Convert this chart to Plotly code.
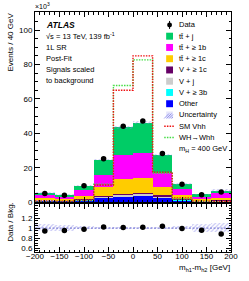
import numpy as np
import plotly.graph_objects as go

# ---------------- data (values in units of 10^3 events) ----------------
bin_centers = [-180, -140, -100, -60, -20, 20, 60, 100, 140, 180]
bin_edges = [-200, -160, -120, -80, -40, 0, 40, 80, 120, 160, 200]

other   = [1.0, 0.8, 1.2, 2.5, 3.3, 3.7, 2.8, 1.2, 0.6, 0.6]
v_3b    = [0.1, 0.1, 0.1, 0.2, 0.2, 0.3, 0.2, 0.1, 0.05, 0.05]
v_j     = [0.3, 0.2, 0.3, 0.5, 0.8, 0.9, 0.6, 0.3, 0.15, 0.2]
v_1c    = [0.2, 0.15, 0.2, 0.3, 0.7, 0.7, 0.4, 0.2, 0.1, 0.15]
tt_1c   = [1.0, 0.7, 1.9, 5.5, 8.3, 8.7, 4.9, 2.2, 0.8, 1.5]
tt_1b   = [1.4, 1.2, 3.3, 7.0, 14.3, 14.5, 8.3, 3.9, 1.4, 3.1]
tt_j    = [1.3, 1.15, 2.7, 8.8, 16.0, 17.5, 10.1, 2.7, 1.4, 1.2]

data    = [5.0, 4.1, 9.5, 25.3, 44.1, 47.2, 28.3, 10.5, 4.3, 6.0]
rel_unc = [0.07, 0.06, 0.03, 0.02, 0.02, 0.02, 0.02, 0.03, 0.08, 0.09]

sm_vhh  = [0.8, 0.6, 1.2, 10.0, 65.0, 85.0, 17.5, 2.5, 0.6, 0.4]
wh_whh  = [0.5, 0.4, 1.0, 10.5, 67.8, 82.7, 17.0, 2.0, 0.5, 0.3]

stack_names  = ["Other", "V + ≥ 3b", "V + j", "V + ≥ 1c", "tt̄ + ≥ 1c", "tt̄ + ≥ 1b", "tt̄ + j"]
stack_colors = ["#0000ff", "#00ffff", "#cccccc", "#660066", "#ffcc00", "#ff00ff", "#00cc66"]
stack_values = [other, v_3b, v_j, v_1c, tt_1c, tt_1b, tt_j]

# ---------------- derived ----------------
arr = np.array(stack_values, dtype=float)
total = arr.sum(axis=0)
bases = np.vstack([np.zeros(len(bin_centers)), np.cumsum(arr, axis=0)[:-1]])
data_a = np.array(data)
unc = np.array(rel_unc)
data_err = np.sqrt(data_a * 1000) / 1000
ratio = data_a / total
ratio_err = data_err / total

W, H = 249, 281
L, R, T, B = 35, 236, 11, 252


def px(x):
    return (x - L) / (R - L)


def py(y):
    return (B - y) / (B - T)


FONT = "Liberation Sans, Arial, sans-serif"
RED = "#ee1111"
GRN = "#44dd44"
DOT = "1.5px,1.2px"
fig = go.Figure()

# stacked backgrounds
for name, col, vals, base in zip(stack_names, stack_colors, stack_values, bases):
    fig.add_trace(go.Bar(x=bin_centers, y=vals, base=base, width=40, name=name,
                         marker=dict(color=col, line=dict(width=0)),
                         xaxis="x", yaxis="y", showlegend=False))

# uncertainty band main
fig.add_trace(go.Bar(x=bin_centers, y=2 * total * unc, base=total * (1 - unc), width=40,
                     marker=dict(color="rgba(0,0,0,0)", line=dict(width=0),
                                 pattern=dict(shape="/", fgcolor="#8080e8", bgcolor="rgba(0,0,0,0)",
                                              size=3, solidity=0.35)),
                     xaxis="x", yaxis="y", showlegend=False))

# signals
fig.add_trace(go.Scatter(x=bin_edges, y=list(wh_whh) + [wh_whh[-1]], mode="lines", line_shape="hv",
                         line=dict(color=GRN, width=1.4, dash=DOT), xaxis="x", yaxis="y",
                         showlegend=False))
fig.add_trace(go.Scatter(x=bin_edges, y=list(sm_vhh) + [sm_vhh[-1]], mode="lines", line_shape="hv",
                         line=dict(color=RED, width=1.4, dash=DOT), xaxis="x", yaxis="y",
                         showlegend=False))

# data
fig.add_trace(go.Scatter(x=bin_centers, y=data, mode="markers",
                         marker=dict(color="black", size=5.5),
                         error_y=dict(type="data", array=data_err, color="black", thickness=1, width=0),
                         xaxis="x", yaxis="y", showlegend=False))

# ratio panel
fig.add_trace(go.Bar(x=bin_centers, y=2 * unc, base=1 - unc, width=40,
                     marker=dict(color="rgba(0,0,0,0)", line=dict(width=0),
                                 pattern=dict(shape="/", fgcolor="#8080e8", bgcolor="rgba(0,0,0,0)",
                                              size=3, solidity=0.35)),
                     xaxis="x2", yaxis="y2", showlegend=False))
fig.add_trace(go.Scatter(x=[-200, 200], y=[1, 1], mode="lines",
                         line=dict(color="#7070d0", width=1, dash="2px,1.5px"),
                         xaxis="x2", yaxis="y2", showlegend=False))
fig.add_trace(go.Scatter(x=bin_centers, y=ratio, mode="markers",
                         marker=dict(color="black", size=5.5),
                         error_y=dict(type="data", array=ratio_err, color="black", thickness=1, width=0),
                         xaxis="x2", yaxis="y2", showlegend=False))

axis_common = dict(showline=True, linecolor="black", linewidth=1, mirror="allticks",
                   ticks="inside", tickcolor="black", ticklen=5, tickwidth=1,
                   showgrid=False, zeroline=False,
                   tickfont=dict(family=FONT, size=8, color="black"))

fig.update_layout(
    width=W, height=H,
    margin=dict(l=L, r=W - R, t=T, b=H - B),
    paper_bgcolor="white", plot_bgcolor="white",
    barmode="overlay", bargap=0,
    showlegend=False,
    xaxis=dict(domain=[0, 1], range=[-200, 200], anchor="y", showticklabels=False,
               dtick=50, tick0=0, minor=dict(ticks="inside", ticklen=2.5, dtick=10, tickcolor="black"),
               **axis_common),
    yaxis=dict(domain=[py(202), 1], range=[0, 110.5], anchor="x", dtick=20,
               minor=dict(ticks="inside", ticklen=2.5, dtick=5, tickcolor="black"),
               **axis_common),
    xaxis2=dict(domain=[0, 1], range=[-200, 200], anchor="y2", dtick=50, tick0=0,
                minor=dict(ticks="inside", ticklen=2.5, dtick=10, tickcolor="black"),
                ticklabelstandoff=-4,
                **axis_common),
    yaxis2=dict(domain=[0, py(204)], range=[0.52, 1.48], anchor="x2",
                tickvals=[0.6, 0.8, 1.0, 1.2], ticktext=["0.6", "0.8", "1", "1.2"],
                minor=dict(ticks="inside", ticklen=2.5, dtick=0.05, tickcolor="black"),
                **axis_common),
)

ann = []


def text(xp, yp, s, size=8, xanchor="left", yanchor="middle", angle=0):
    ann.append(dict(x=px(xp), y=py(yp), xref="paper", yref="paper", text=s, showarrow=False,
                    xanchor=xanchor, yanchor=yanchor, textangle=angle,
                    font=dict(family=FONT, size=size, color="black")))


# axis titles
text(10, 41, "Events / 40 GeV", size=8, xanchor="center", yanchor="middle", angle=-90)
text(10, 222, "Data / Bkg.", size=8, xanchor="center", yanchor="middle", angle=-90)
text(237, 268.5, "m<sub>h1</sub>-m<sub>h2</sub> [GeV]", size=8, xanchor="right")
text(33, 5, "×10<sup>3</sup>", size=7)

# ATLAS labels
text(44, 24, "<b><i>ATLAS</i></b>", size=8.5)
text(44, 35, "√s = 13 TeV, 139 fb<sup>-1</sup>", size=7.5)
text(44, 47, "1L SR", size=7.5)
text(44, 58, "Post-Fit", size=7.5)
text(44, 69, "Signals scaled", size=7.5)
text(44, 80, "to background", size=7.5)

# manual legend
shapes = []
leg_x0, leg_x1, leg_tx = 169.5, 176.5, 180.5
rows_y = [24, 35.3, 46.6, 57.9, 69.2, 80.5, 91.8, 103.1, 114.4, 125.7, 137, 148.3]

# Data
text(leg_tx, rows_y[0], "Data", size=7.5)
shapes.append(dict(type="circle", xref="paper", yref="paper",
                   x0=px(170.5), x1=px(175.5), y0=py(26.5), y1=py(21.5),
                   fillcolor="black", line=dict(color="black", width=0)))
shapes.append(dict(type="line", xref="paper", yref="paper",
                   x0=px(173), x1=px(173), y0=py(20), y1=py(28), line=dict(color="black", width=1)))

legend_boxes = [("tt̄ + j", "#00cc66"), ("tt̄ + ≥ 1b", "#ff00ff"), ("tt̄ + ≥ 1c", "#ffcc00"),
                ("V + ≥ 1c", "#660066"), ("V + j", "#cccccc"), ("V + ≥ 3b", "#00ffff"),
                ("Other", "#0000ff")]
for i, (lab, col) in enumerate(legend_boxes):
    yc = rows_y[i + 1]
    shapes.append(dict(type="rect", xref="paper", yref="paper",
                       x0=px(leg_x0), x1=px(leg_x1), y0=py(yc + 3.5), y1=py(yc - 3.5),
                       fillcolor=col, line=dict(width=0)))
    text(leg_tx, yc, lab, size=7.5)

# Uncertainty swatch
yc = rows_y[8]
shapes.append(dict(type="rect", xref="paper", yref="paper",
                   x0=px(leg_x0), x1=px(leg_x1), y0=py(yc + 3.5), y1=py(yc - 3.5),
                   fillcolor="rgba(150,150,240,0.25)", line=dict(width=0)))
for k in range(4):
    xs = leg_x0 + k * 2.5
    shapes.append(dict(type="line", xref="paper", yref="paper",
                       x0=px(xs - 2), x1=px(min(xs + 3, leg_x1)), y0=py(yc + 3.5),
                       y1=py(yc + 3.5 - (min(xs + 3, leg_x1) - (xs - 2))),
                       line=dict(color="#8080e8", width=0.8)))
text(leg_tx, yc, "Uncertainty", size=7.5)

# signal swatches
for idx, lab, col in [(9, "SM Vhh", RED), (10, "WH→Whh", GRN)]:
    yc = rows_y[idx]
    shapes.append(dict(type="line", xref="paper", yref="paper",
                       x0=px(167.5), x1=px(178.5), y0=py(yc), y1=py(yc),
                       line=dict(color=col, width=1.4, dash=DOT)))
    text(leg_tx, yc, lab, size=7.5)

text(leg_tx, rows_y[11], "m<sub>H</sub> = 400 GeV", size=7.5)

fig.update_layout(annotations=ann, shapes=shapes)
fig.write_html("out.html", config={"displayModeBar": False},
               post_script="document.body.style.margin='0';document.body.style.overflow='hidden';")
